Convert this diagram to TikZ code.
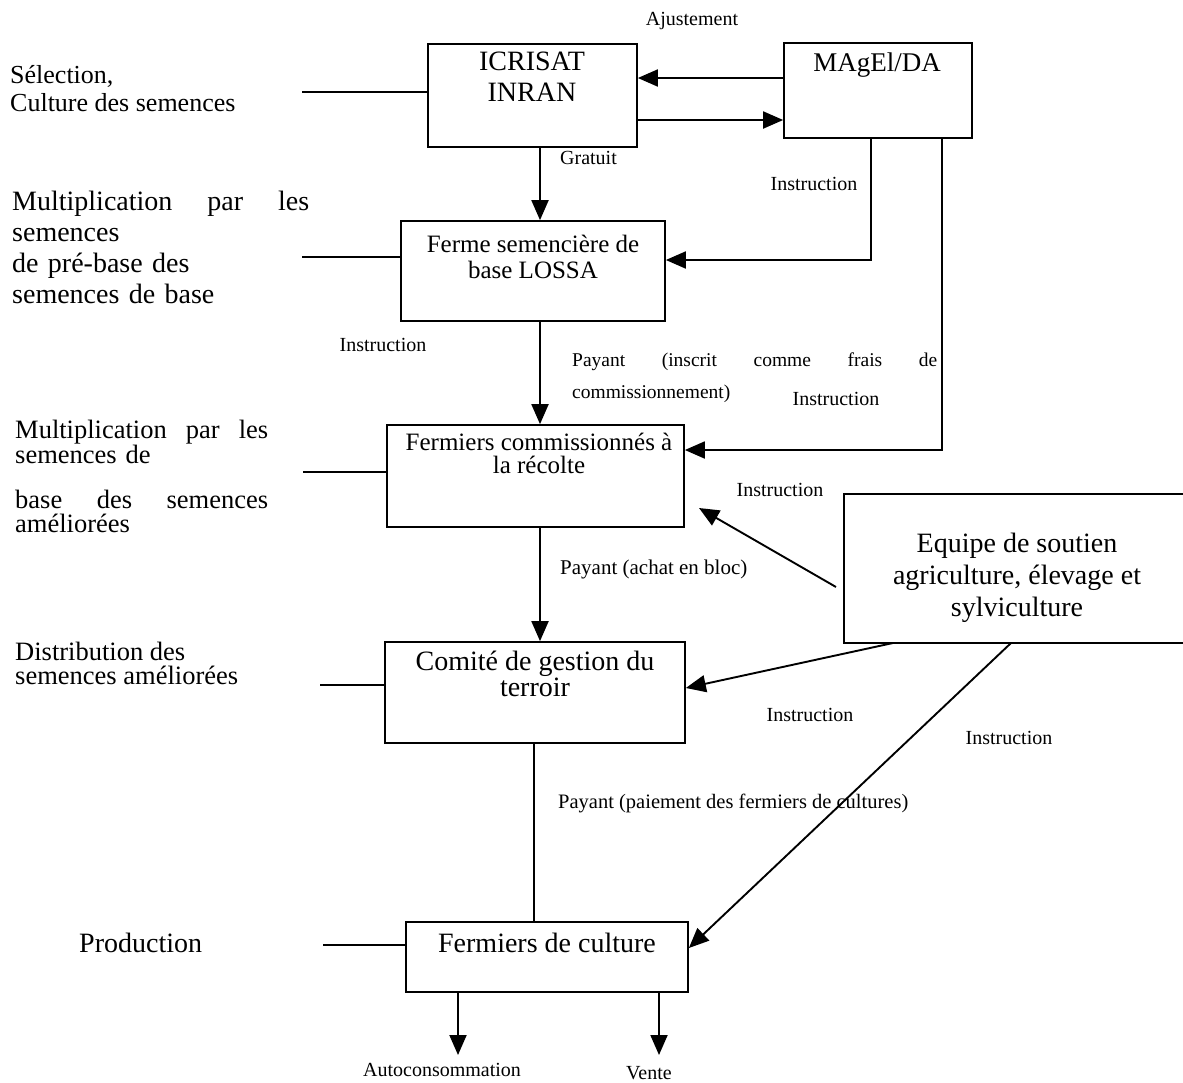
\documentclass[tikz,border=0pt]{standalone}
\usepackage{fontspec}
\setmainfont{Liberation Serif}
\usetikzlibrary{arrows.meta}

\begin{document}
\begin{tikzpicture}[x=1pt,y=-1pt,
  box/.style={draw, line width=1.7pt, inner sep=0pt},
  boxtext/.style={anchor=north, align=center, inner sep=0pt},
  side/.style={anchor=north west, align=left, inner sep=0pt},
  lbl/.style={inner sep=0pt, font=\fontsize{20}{22}\selectfont},
  link/.style={line width=1.5pt},
  arr/.style={line width=1.9pt, -{Triangle[length=20pt,width=17pt]}}
]
\useasboundingbox (0,0) rectangle (1183,1082);

% ---- boxes ----
\node[box, minimum width=209pt, minimum height=103pt] (icrisat) at (532.5,95.5) {};
\node[box, minimum width=188pt, minimum height=95pt]  (magel)   at (878,90.5) {};
\node[box, minimum width=264pt, minimum height=100pt] (ferme)   at (533,271) {};
\node[box, minimum width=297pt, minimum height=102pt] (fcomm)   at (535.5,476) {};
\node[box, minimum width=300pt, minimum height=101pt] (comite)  at (535,692.5) {};
\node[box, minimum width=282pt, minimum height=70pt]  (fcult)   at (547,957) {};
% support team box runs off the right edge
\node[inner sep=0pt, minimum width=339pt, minimum height=149pt] (equipe) at (1013.5,568.5) {};
\draw[line width=1.7pt] (equipe.north east) -- (equipe.north west) -- (equipe.south west) -- (equipe.south east);

% ---- box texts ----
\node[boxtext, font=\fontsize{28}{31}\selectfont] (icrisatT) at (532,52) {ICRISAT\\INRAN};
\node[boxtext, font=\fontsize{27}{31}\selectfont] (magelT) at (877,53) {MAgEl/DA};
\node[boxtext, font=\fontsize{25}{26}\selectfont] (fermeT) at (533,235) {Ferme semencière de\\base LOSSA};
\node[boxtext, font=\fontsize{25}{23}\selectfont] (fcommT) at (539,433) {Fermiers commissionnés à\\la récolte};
\node[boxtext, font=\fontsize{28}{32}\selectfont] (equipeT) at (1017,533) {Equipe de soutien\\agriculture, élevage et\\sylviculture};
\node[boxtext, font=\fontsize{28}{24}\selectfont] (comiteT) at (535,651) {Comité de gestion du\\terroir};
\node[boxtext, font=\fontsize{28}{30}\selectfont] (fcultT) at (547,933) {Fermiers de culture};

% ---- stage labels on the left ----
\node[side, font=\fontsize{26}{28}\selectfont] (s1) at (10,65) {Sélection,\\Culture des semences};
\node[side, text width=297pt, font=\fontsize{28}{31}\selectfont] (s2) at (12,191)
  {Multiplication\hfill par\hfill les\\semences\\de pré-base des\\semences de base};
\node[side, text width=253pt, font=\fontsize{26.5}{24}\selectfont] (s3) at (15,420)
  {Multiplication\hfill par\hfill les\\semences de\\[21pt]base\hfill des\hfill semences\\améliorées};
\node[side, font=\fontsize{26.5}{24}\selectfont] (s4) at (15,642) {Distribution des\\semences améliorées};
\node[anchor=west, inner sep=0pt, font=\fontsize{28}{30}\selectfont] (s5) at (79,943) {Production};

% ---- free ends and columns ----
\coordinate (e1) at (302,92);
\coordinate (e2) at (302,257);
\coordinate (e3) at (303,472);
\coordinate (e4) at (320,685);
\coordinate (e5) at (323,945);
\coordinate (colA) at (540,0);
\coordinate (colB) at (871,0);
\coordinate (colC) at (942,0);
\coordinate (colD) at (534,0);
\coordinate (rowAj) at (0,78);
\coordinate (rowBk) at (0,120);
\coordinate (row260) at (0,260);
\coordinate (row450) at (0,450);
\coordinate (eqA) at (836,587);
\coordinate (fcommTip) at (699,508);
\coordinate (eqB) at (893,643);
\coordinate (row688) at (0,688);
\coordinate (eqC) at (1011,643);
\coordinate (row948) at (0,948);
\coordinate (autoEnd) at (458,1055);
\coordinate (venteEnd) at (659,1055);

% ---- stage lines ----
\draw[link] (e1) -- (e1 -| icrisat.west);
\draw[link] (e2) -- (e2 -| ferme.west);
\draw[link] (e3) -- (e3 -| fcomm.west);
\draw[link] (e4) -- (e4 -| comite.west);
\draw[link] (e5) -- (e5 -| fcult.west);

% ---- flows ----
\draw[arr] (rowAj -| magel.west) -- (rowAj -| icrisat.east);
\draw[arr] (rowBk -| icrisat.east) -- (rowBk -| magel.west);
\draw[arr] (icrisat.south -| colA) -- (ferme.north -| colA);
\draw[arr] (magel.south -| colB) -- (row260 -| colB) -- (row260 -| ferme.east);
\draw[arr] (magel.south -| colC) -- (row450 -| colC) -- (row450 -| fcomm.east);
\draw[arr] (ferme.south -| colA) -- (fcomm.north -| colA);
\draw[arr] (fcomm.south -| colA) -- (comite.north -| colA);
\draw[link] (comite.south -| colD) -- (fcult.north -| colD);
\draw[arr] (eqA) -- (fcommTip);
\draw[arr] (eqB) -- (row688 -| comite.east);
\draw[arr] (eqC) -- (row948 -| fcult.east);
\draw[arr] (fcult.south -| autoEnd) -- (autoEnd);
\draw[arr] (fcult.south -| venteEnd) -- (venteEnd);

% ---- flow labels ----
\node[lbl] (lAj) at (692,21) {Ajustement};
\node[lbl, anchor=west] (lGr) at (560,158) {Gratuit};
\node[lbl] (lIn1) at (814,184) {Instruction};
\node[lbl] (lIn2) at (383,345) {Instruction};
\node[lbl, anchor=north west, align=left, text width=365pt, font=\fontsize{19.5}{32}\selectfont] (lPay1) at (572,353)
  {Payant\hfill (inscrit\hfill comme\hfill frais\hfill de\\commissionnement)};
\node[lbl] (lIn3) at (836,399) {Instruction};
\node[lbl] (lIn4) at (780,490) {Instruction};
\node[lbl, anchor=west, font=\fontsize{21}{22}\selectfont] (lPay2) at (560,569) {Payant (achat en bloc)};
\node[lbl] (lIn5) at (810,715) {Instruction};
\node[lbl] (lIn6) at (1009,738) {Instruction};
\node[lbl, anchor=west, font=\fontsize{20.5}{22}\selectfont] (lPay3) at (558,803) {Payant (paiement des fermiers de cultures)};
\node[lbl] (lAuto) at (442,1070) {Autoconsommation};
\node[lbl] (lVente) at (649,1073) {Vente};
\end{tikzpicture}
\end{document}
